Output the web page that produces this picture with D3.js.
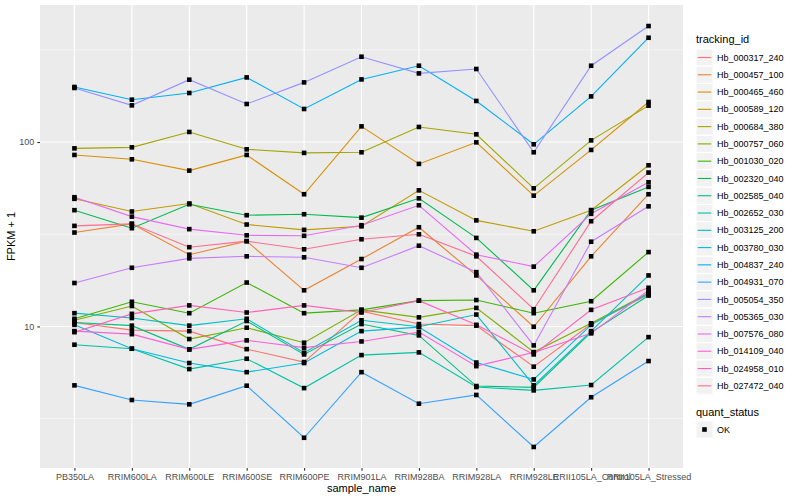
<!DOCTYPE html>
<html>
<head>
<meta charset="utf-8">
<script src="https://cdn.jsdelivr.net/npm/d3@7"></script>
<style>
  body { margin: 0; background: #fff; }
  svg text { font-family: "Liberation Sans", Arial, sans-serif; }
</style>
</head>
<body>
<script>
// samples on the x axis
var samples = ["PB350LA", "RRIM600LA", "RRIM600LE", "RRIM600SE", "RRIM600PE", "RRIM901LA",
  "RRIM928BA", "RRIM928LA", "RRIM928LE", "RRII105LA_Control", "RRII105LA_Stressed"];

var trackingIds = ["Hb_000317_240", "Hb_000457_100", "Hb_000465_460", "Hb_000589_120", "Hb_000684_380",
  "Hb_000757_060", "Hb_001030_020", "Hb_002320_040", "Hb_002585_040", "Hb_002652_030",
  "Hb_003125_200", "Hb_003780_030", "Hb_004837_240", "Hb_004931_070", "Hb_005054_350",
  "Hb_005365_030", "Hb_007576_080", "Hb_014109_040", "Hb_024958_010", "Hb_027472_040"];

// FPKM + 1, one array per gene, same order as samples
var hb000317_240 = [10.5, 9.55, 9.43, 7.53, 6.41, 12.1, 10.3, 10.1, 6.05, 10.3, 14.9];
var hb000457_100 = [32.3, 36.0, 24.5, 29.0, 15.7, 23.2, 34.5, 18.9, 9.96, 24.0, 52.1];
var hb000465_460 = [85.1, 80.6, 70.0, 85.1, 52.1, 121.6, 76.1, 99.6, 51.2, 90.6, 164.9];
var hb000589_120 = [49.2, 42.0, 46.4, 35.7, 33.4, 34.9, 54.7, 37.6, 32.8, 42.7, 74.8];
var hb000684_380 = [92.4, 93.6, 113.4, 91.3, 87.3, 88.0, 120.7, 110.1, 56.1, 102.1, 157.5];
var hb000757_060 = [10.8, 12.9, 8.54, 9.84, 8.16, 12.3, 11.2, 12.6, 7.26, 10.4, 15.2];
var hb001030_020 = [11.0, 13.6, 11.8, 17.3, 11.8, 12.3, 13.8, 13.9, 11.8, 13.7, 25.3];
var hb002320_040 = [42.7, 34.1, 46.0, 40.1, 40.6, 38.9, 49.5, 30.2, 15.7, 42.7, 57.1];
var hb002585_040 = [10.5, 10.1, 7.51, 10.7, 7.05, 10.3, 8.94, 4.75, 4.67, 9.28, 14.7];
var hb002652_030 = [7.96, 7.57, 5.87, 6.68, 4.63, 6.99, 7.23, 4.69, 4.50, 4.81, 8.75];
var hb003125_200 = [11.8, 11.1, 10.1, 11.0, 7.20, 10.8, 9.96, 11.6, 4.79, 9.43, 18.9];
var hb003780_030 = [10.2, 7.57, 6.33, 5.65, 6.33, 9.43, 9.91, 6.37, 5.16, 10.2, 15.1];
var hb004837_240 = [198.9, 169.7, 184.5, 224.1, 151.1, 218.6, 259.3, 167.0, 97.2, 176.8, 367.8];
var hb004931_070 = [4.79, 3.99, 3.78, 4.77, 2.49, 5.65, 3.81, 4.25, 2.22, 4.13, 6.49];
var hb005054_350 = [196.4, 158.1, 217.8, 160.8, 210.6, 290.1, 235.6, 248.9, 88.0, 259.3, 425.6];
var hb005365_030 = [17.2, 20.8, 23.4, 24.0, 23.7, 20.8, 27.4, 19.7, 7.89, 28.8, 44.8];
var hb007576_080 = [50.2, 39.4, 33.7, 31.2, 31.0, 35.4, 45.4, 24.5, 21.1, 40.8, 60.5];
var hb014109_040 = [9.43, 9.08, 7.51, 8.40, 7.67, 8.29, 9.31, 6.09, 7.23, 9.17, 15.7];
var hb024958_010 = [9.31, 11.7, 13.0, 11.9, 13.0, 11.9, 13.8, 10.2, 7.05, 12.3, 16.2];
var hb027472_040 = [35.1, 36.0, 26.9, 29.0, 26.2, 29.7, 31.6, 24.0, 12.4, 37.2, 68.3];

var geneValues = [hb000317_240, hb000457_100, hb000465_460, hb000589_120, hb000684_380,
  hb000757_060, hb001030_020, hb002320_040, hb002585_040, hb002652_030,
  hb003125_200, hb003780_030, hb004837_240, hb004931_070, hb005054_350,
  hb005365_030, hb007576_080, hb014109_040, hb024958_010, hb027472_040];

var yTicks = [10, 100];
var quantStatus = ["OK"];

// ggplot hue palette, 20 levels
var palette = ["#F8766D", "#EA8331", "#D89000", "#C09B00", "#A3A500", "#7CAE00", "#39B600", "#00BB4E",
  "#00BF7D", "#00C1A3", "#00BFC4", "#00BAE0", "#00B0F6", "#35A2FF", "#9590FF", "#C77CFF",
  "#E76BF3", "#FA62DB", "#FF62BC", "#FF6C91"];

var width = 800, height = 500;
var panel = {left: 40, right: 683, top: 5, bottom: 468};

var svg = d3.select("body").append("svg")
  .attr("width", width)
  .attr("height", height);

// x: discrete, 0.6 step expansion each side
var x = d3.scalePoint()
  .domain(samples)
  .range([panel.left, panel.right])
  .padding(0.6);

// y: log10, 5% expansion in log space
var allVals = d3.merge(geneValues);
var lo = Math.log10(d3.min(allVals)), hi = Math.log10(d3.max(allVals));
var pad = (hi - lo) * 0.05;
var y = d3.scaleLog()
  .domain([Math.pow(10, lo - pad), Math.pow(10, hi + pad)])
  .range([panel.bottom, panel.top]);

// panel background
svg.append("rect")
  .attr("x", panel.left).attr("y", panel.top)
  .attr("width", panel.right - panel.left)
  .attr("height", panel.bottom - panel.top)
  .attr("fill", "#EBEBEB");

var grid = svg.append("g");
// minor y grid halfway between decades
var minor = [];
for (var k = -1; k < 4; k++) {
  var v = Math.pow(10, k + 0.5);
  if (v > y.domain()[0] && v < y.domain()[1]) minor.push(v);
}
grid.selectAll(".ymin").data(minor).enter().append("line")
  .attr("x1", panel.left).attr("x2", panel.right)
  .attr("y1", function(d) { return y(d); }).attr("y2", function(d) { return y(d); })
  .attr("stroke", "#fff").attr("stroke-width", 0.55);
grid.selectAll(".ymaj").data(yTicks).enter().append("line")
  .attr("x1", panel.left).attr("x2", panel.right)
  .attr("y1", function(d) { return y(d); }).attr("y2", function(d) { return y(d); })
  .attr("stroke", "#fff").attr("stroke-width", 1.1);
grid.selectAll(".xmaj").data(samples).enter().append("line")
  .attr("x1", function(d) { return x(d); }).attr("x2", function(d) { return x(d); })
  .attr("y1", panel.top).attr("y2", panel.bottom)
  .attr("stroke", "#fff").attr("stroke-width", 1.1);

// lines
var line = d3.line()
  .x(function(d, i) { return x(samples[i]); })
  .y(function(d) { return y(d); });

svg.append("g").selectAll("path").data(geneValues).enter().append("path")
  .attr("d", line)
  .attr("fill", "none")
  .attr("stroke", function(d, i) { return palette[i]; })
  .attr("stroke-width", 1.1);

// points
var pts = svg.append("g");
geneValues.forEach(function(vals) {
  pts.selectAll(null).data(vals).enter().append("rect")
    .attr("x", function(d, i) { return x(samples[i]) - 2.3; })
    .attr("y", function(d) { return y(d) - 2.3; })
    .attr("width", 4.6).attr("height", 4.6)
    .attr("fill", "#000");
});

// axes
var xAxis = svg.append("g")
  .attr("transform", "translate(0," + panel.bottom + ")")
  .call(d3.axisBottom(x).tickSize(2.7).tickPadding(3));
var yAxis = svg.append("g")
  .attr("transform", "translate(" + panel.left + ",0)")
  .call(d3.axisLeft(y).tickValues(yTicks).tickFormat(d3.format("d")).tickSize(2.7).tickPadding(3));
[xAxis, yAxis].forEach(function(a) {
  a.select(".domain").remove();
  a.selectAll(".tick line").attr("stroke", "#333333").attr("stroke-width", 1.1);
  a.selectAll(".tick text").attr("fill", "#4D4D4D").style("font-size", "9px");
});

svg.append("text")
  .attr("x", (panel.left + panel.right) / 2).attr("y", 492)
  .attr("text-anchor", "middle")
  .style("font-size", "11px").attr("fill", "#000")
  .text("sample_name");
svg.append("text")
  .attr("transform", "translate(15," + ((panel.top + panel.bottom) / 2) + ") rotate(-90)")
  .attr("text-anchor", "middle")
  .style("font-size", "11px").attr("fill", "#000")
  .text("FPKM + 1");

// legend: tracking_id
var leg = svg.append("g").attr("transform", "translate(696,0)");
leg.append("text").attr("x", 0).attr("y", 43)
  .style("font-size", "11px").attr("fill", "#000").text("tracking_id");
var keyH = 17.28;
var items = leg.selectAll(".item").data(trackingIds).enter().append("g")
  .attr("transform", function(d, i) { return "translate(0," + (49 + i * keyH) + ")"; });
items.append("rect").attr("width", 17).attr("height", 17)
  .attr("fill", "#F2F2F2").attr("stroke", "#fff").attr("stroke-width", 1);
items.append("line").attr("x1", 1.7).attr("x2", 15.3).attr("y1", 8.5).attr("y2", 8.5)
  .attr("stroke", function(d, i) { return palette[i]; }).attr("stroke-width", 1.1);
items.append("text").attr("x", 21).attr("y", 8.5).attr("dy", "0.35em")
  .style("font-size", "9px").attr("fill", "#000")
  .text(function(d) { return d; });

// legend: quant_status
var leg2 = svg.append("g").attr("transform", "translate(696,0)");
leg2.append("text").attr("x", 0).attr("y", 416)
  .style("font-size", "11px").attr("fill", "#000").text("quant_status");
var q = leg2.selectAll(".q").data(quantStatus).enter().append("g")
  .attr("transform", "translate(0,421)");
q.append("rect").attr("width", 17).attr("height", 17)
  .attr("fill", "#F2F2F2").attr("stroke", "#fff");
q.append("rect").attr("x", 6.2).attr("y", 6.2).attr("width", 4.6).attr("height", 4.6).attr("fill", "#000");
q.append("text").attr("x", 21).attr("y", 8.5).attr("dy", "0.35em")
  .style("font-size", "9px").attr("fill", "#000")
  .text(function(d) { return d; });
</script>
</body>
</html>
